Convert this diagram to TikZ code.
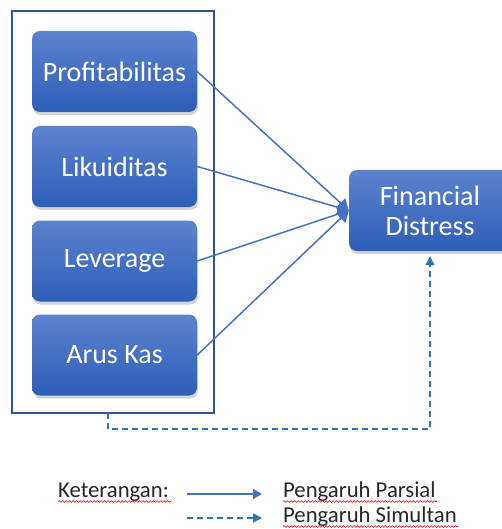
\documentclass[tikz,border=0pt]{standalone}
\usepackage{fontspec}
\setmainfont{Carlito}
\usetikzlibrary{arrows.meta,shadows,decorations.pathmorphing}
\definecolor{boxtop}{RGB}{92,131,206}
\definecolor{boxbot}{RGB}{46,94,184}
\definecolor{solidblue}{RGB}{68,114,196}
\definecolor{dashblue}{RGB}{46,117,182}
\definecolor{framecol}{RGB}{47,85,151}
\definecolor{legtext}{RGB}{38,38,38}
\tikzset{
  varbox/.style={rounded corners=8pt, top color=boxtop, bottom color=boxbot,
    draw=none, text=white, font=\fontsize{28}{30}\selectfont, align=center,
    drop shadow={opacity=0.35, shadow xshift=1pt, shadow yshift=-3pt},
    minimum width=165pt, minimum height=81pt, inner sep=0pt},
  partial/.style={draw=solidblue, line width=1.5pt, -{Triangle[length=11pt,width=13pt]}},
  simul/.style={draw=dashblue, line width=1.5pt, dash pattern=on 6pt off 4pt,
    -{Triangle[length=9pt,width=9pt]}},
  legtxt/.style={anchor=base west, text=legtext, font=\fontsize{22.7}{24}\selectfont, inner sep=0pt},
  squig/.style={draw=red!85!black, line width=0.6pt, decorate,
    decoration={snake, amplitude=0.9pt, segment length=3.5pt}}
}
\begin{document}
\begin{tikzpicture}[x=1pt,y=-1pt]
\useasboundingbox (0,0) rectangle (502,529);
\node[draw=framecol, line width=1.5pt, minimum width=202pt, minimum height=402pt, inner sep=0pt] (outer) at (113,212) {};
\node[varbox] (prof) at (114.5,71.5) {Profitabilitas};
\node[varbox] (liku) at (114.5,166.5) {Likuiditas};
\node[varbox] (lev) at (114.5,261) {Leverage};
\node[varbox] (arus) at (114.5,355) {Arus Kas};
\node[varbox, minimum width=162pt] (fd) at (430,210.5) {Financial\\Distress};
\draw[partial] (prof.east) -- (fd.west);
\draw[partial] (liku.east) -- (fd.west);
\draw[partial] (lev.east) -- (fd.west);
\draw[partial] (arus.east) -- (fd.west);
\coordinate (dstart) at (108,413);
\draw[simul, shorten >=5pt] (dstart) -- (108,429) -| (fd.south);
% legend
\node[legtxt] (ket) at (58,497) {Keterangan:};
\node[legtxt] (parsial) at (283,497) {Pengaruh Parsial};
\node[legtxt] (simultan) at (283,522) {Pengaruh Simultan};
\coordinate (l1a) at (187,494);
\coordinate (l1b) at (262,494);
\coordinate (l2a) at (187,518);
\coordinate (l2b) at (262,518);
\draw[partial, -{Triangle[length=9pt,width=10pt]}] (l1a) -- (l1b);
\draw[simul] (l2a) -- (l2b);
\draw[squig] (58,501.5) -- (171,501.5);
\draw[squig] (283,501.5) -- (437,501.5);
\draw[squig] (283,526.5) -- (458,526.5);
\end{tikzpicture}
\end{document}
